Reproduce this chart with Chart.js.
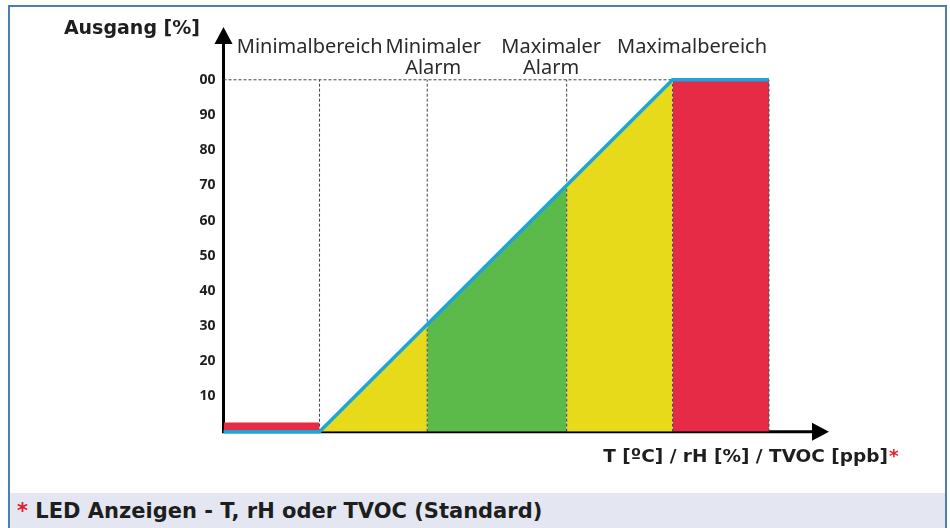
<!DOCTYPE html>
<html>
<head>
<meta charset="utf-8">
<script src="https://cdn.jsdelivr.net/npm/chart.js@4.4.1/dist/chart.umd.min.js"></script>
<style>
  html, body { margin: 0; padding: 0; background: #fff; overflow: hidden; }
  #wrap { position: relative; width: 950px; height: 528px; overflow: hidden; }
  #frame { position: absolute; left: 8px; top: 5px; width: 935px; height: 540px;
           border: 2px solid #4a7fb0; border-bottom: none; }
  #band { position: absolute; left: 10px; top: 493px; width: 935px; height: 35px; background: #e4e7f1;
          font-family: "DejaVu Sans", Verdana, sans-serif; font-weight: bold; font-size: 21px;
          color: #1e1e1e; line-height: 36px; padding-left: 7px; box-sizing: border-box; white-space: nowrap; }
  #band .star { color: #e2202f; }
  canvas { position: absolute; left: 0; top: 0; }
</style>
</head>
<body>
<div id="wrap">
  <div id="frame"></div>
  <div id="band"><span class="star">*</span> LED Anzeigen - T, rH oder TVOC (Standard)</div>
  <canvas id="chart" width="950" height="528"></canvas>
</div>
<script>
// x axis runs in "output %" units of the ramp, y axis is Ausgang [%]
const X_MIN = -27.2;
const X_MAX = 144.3;
const Y_MAX = 115;

const yTicks      = [10, 20, 30, 40, 50, 60, 70, 80, 90, 100];
const yTickLabels = ['10', '20', '30', '40', '50', '60', '70', '80', '90', '00'];

// blue output curve
const curveX = [X_MIN, 0, 100, 127.3];
const curveY = [0, 0, 100, 100];

// coloured zones under the curve
const zoneNames  = ['Minimaler Alarm', 'Normal', 'Maximaler Alarm', 'Maximalbereich'];
const zoneX      = [[0, 30.5], [30.5, 70], [70, 100], [100, 127.3]];
const zoneY      = [[0, 30.5], [30.5, 70], [70, 100], [100, 100]];
const zoneColors = ['#e6da1a', '#5bba4a', '#e6da1a', '#e52b45'];

// small red bar for the minimal range
const lowBarX = [X_MIN, 0];
const lowBarY = [2.6, 2.6];

// dashed guides
const guideX = [0, 30.5, 70, 100, 127.3];
const guideTop = 100;

const zoneLabels = [
  { lines: ['Minimalbereich'], x: -2.8 },
  { lines: ['Minimaler', 'Alarm'], x: 32.2 },
  { lines: ['Maximaler', 'Alarm'], x: 65.6 },
  { lines: ['Maximalbereich'], x: 105.5 }
];

function pts(xs, ys) {
  return xs.map(function(x, i) { return { x: x, y: ys[i] }; });
}

var datasets = [];

datasets.push({
  label: 'Ausgang', data: pts(curveX, curveY), borderColor: '#1ba6da', borderWidth: 3.5,
  pointRadius: 0, fill: false, clip: false, order: 0, borderJoinStyle: 'miter'
});

guideX.forEach(function(gx) {
  datasets.push({
    label: 'guide', data: pts([gx, gx], [0, guideTop]), borderColor: '#444', borderWidth: 1,
    borderDash: [3, 2], pointRadius: 0, fill: false, clip: false, order: 1
  });
});
datasets.push({
  label: 'guide', data: pts([X_MIN, 100], [100, 100]), borderColor: '#444', borderWidth: 1,
  borderDash: [3, 2], pointRadius: 0, fill: false, clip: false, order: 1
});

zoneX.forEach(function(zx, i) {
  datasets.push({
    label: zoneNames[i], data: pts(zx, zoneY[i]), borderWidth: 0, borderColor: 'rgba(0,0,0,0)',
    backgroundColor: zoneColors[i], pointRadius: 0, fill: 'origin', clip: false, order: 2
  });
});
datasets.push({
  label: 'Minimalbereich', data: pts(lowBarX, lowBarY), borderWidth: 0, borderColor: 'rgba(0,0,0,0)',
  backgroundColor: '#e52b45', pointRadius: 0, fill: 'origin', clip: false, order: 2
});

var axesPlugin = {
  id: 'axes',
  beforeDatasetsDraw: function(chart) {
    var ctx = chart.ctx, a = chart.chartArea;
    var xs = chart.scales.x, ys = chart.scales.y;
    var x0 = xs.getPixelForValue(X_MIN), yb = ys.getPixelForValue(0);
    ctx.save();
    ctx.strokeStyle = '#000';
    ctx.fillStyle = '#000';
    ctx.lineWidth = 3;
    ctx.beginPath();
    ctx.moveTo(x0, yb + 1.5);
    ctx.lineTo(x0, a.top + 14);
    ctx.moveTo(x0 - 1.5, yb);
    ctx.lineTo(a.right - 14, yb);
    ctx.stroke();
    ctx.beginPath();
    ctx.moveTo(x0, a.top);
    ctx.lineTo(x0 - 9, a.top + 17);
    ctx.lineTo(x0 + 9, a.top + 17);
    ctx.closePath();
    ctx.fill();
    ctx.beginPath();
    ctx.moveTo(a.right, yb);
    ctx.lineTo(a.right - 17, yb - 9);
    ctx.lineTo(a.right - 17, yb + 9);
    ctx.closePath();
    ctx.fill();
    ctx.restore();
  },
  afterDraw: function(chart) {
    var ctx = chart.ctx;
    var xs = chart.scales.x;
    ctx.save();
    // zone headings
    ctx.fillStyle = '#2a2a2a';
    ctx.font = '20px "Noto Sans"';
    ctx.textAlign = 'center';
    ctx.textBaseline = 'alphabetic';
    zoneLabels.forEach(function(l) {
      var px = xs.getPixelForValue(l.x);
      l.lines.forEach(function(t, i) { ctx.fillText(t, px, 53 + i * 21); });
    });
    // y title
    ctx.fillStyle = '#1e1e1e';
    ctx.font = 'bold 19px "DejaVu Sans"';
    ctx.textAlign = 'right';
    ctx.fillText('Ausgang [%]', 200, 34);
    // x title
    ctx.font = 'bold 18.5px "DejaVu Sans"';
    var title = 'T [\u00BAC] / rH [%] / TVOC [ppb]';
    ctx.textAlign = 'right';
    ctx.fillText(title, 888, 462);
    ctx.fillStyle = '#e2202f';
    ctx.textAlign = 'left';
    ctx.fillText('*', 889, 462);
    ctx.restore();
  }
};

new Chart(document.getElementById('chart'), {
  type: 'line',
  data: { datasets: datasets },
  plugins: [axesPlugin],
  options: {
    responsive: false,
    animation: false,
    layout: { padding: { left: 183.5, right: 121, top: 27, bottom: 96.3 } },
    plugins: { legend: { display: false }, tooltip: { enabled: false } },
    scales: {
      x: { type: 'linear', min: X_MIN, max: X_MAX, display: false },
      y: {
        type: 'linear', min: 0, max: Y_MAX,
        border: { display: false },
        grid: { display: false, drawTicks: false },
        afterFit: function(scale) { scale.width = 40; },
        afterBuildTicks: function(scale) {
          scale.ticks = yTicks.map(function(v) { return { value: v }; });
        },
        ticks: {
          padding: 8,
          color: '#1e1e1e',
          font: { family: 'Open Sans', weight: 'bold', size: 14 },
          callback: function(v) { return yTickLabels[yTicks.indexOf(v)]; }
        }
      }
    }
  }
});
</script>
</body>
</html>
